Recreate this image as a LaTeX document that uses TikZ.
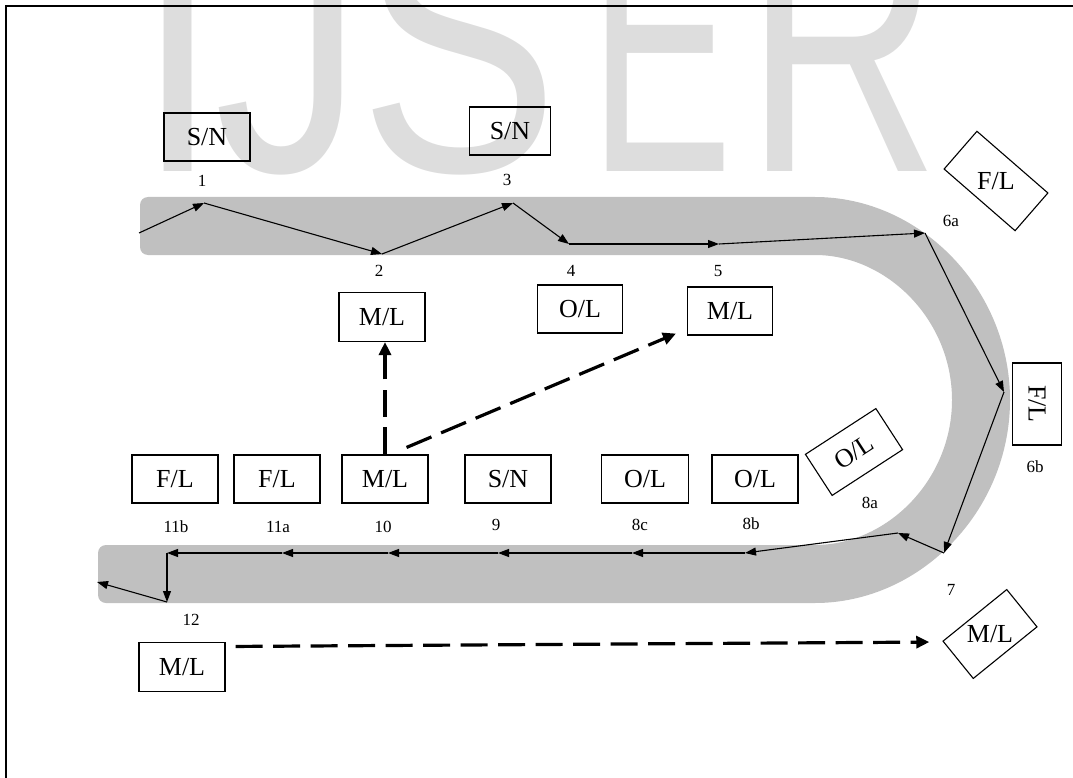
\documentclass[tikz,border=0pt]{standalone}
\usepackage{fontspec}
\setmainfont{Liberation Serif}
\newfontfamily\wmfont{Liberation Sans}
\usetikzlibrary{arrows.meta}
\definecolor{bandgray}{RGB}{192,192,192}
\definecolor{wmgray}{RGB}{221,221,221}
\begin{document}
\begin{tikzpicture}[x=1pt,y=-1pt,
 box/.style={draw=black, line width=1.1pt, inner sep=0pt, minimum width=86pt, minimum height=48pt, font=\fontsize{26}{28}\selectfont},
 txt/.style={inner sep=0pt, font=\fontsize{26}{28}\selectfont},
 lbl/.style={inner sep=0pt, font=\fontsize{17}{19}\selectfont},
 flow/.style={line width=1.1pt, -{Triangle[length=11pt,width=8pt]}},
 dashflow/.style={line width=3.2pt, dash pattern=on 27pt off 10.5pt, -{Triangle[length=13pt,width=12pt]}},
 wm/.style={inner sep=0pt, anchor=base west, yscale=1.25, text=wmgray, font=\wmfont\fontsize{299}{299}\selectfont}]
\useasboundingbox (0,0) rectangle (1073,778);
\clip (0,0) rectangle (1073,778);
% watermark
\node[wm] (wI) at (136,172) {I};
\node[wm] (wJ) at (214,172) {J};
\node[wm] (wS) at (359,172) {S};
\node[wm, xscale=0.72] (wE) at (589,172) {E};
\node[wm, xscale=0.9] (wR) at (745,172) {R};
% frame
\draw[line width=2pt] (6,778) -- (6,6.5) -- (1073,6.5);
% band
\fill[bandgray, rounded corners=8pt] (140,197) -- (807,197) arc[start angle=-90, end angle=90, radius=203] -- (98,603) -- (98,545) -- (807,545) arc[start angle=90, end angle=-90, radius=145] -- (140,255) -- cycle;
% path points
\coordinate (p0) at (139,233);
\coordinate (p1) at (204,203);
\coordinate (p2) at (382,254);
\coordinate (p3) at (513,203);
\coordinate (p4) at (569,244);
\coordinate (p5) at (719,244);
\coordinate (p6a) at (925,233);
\coordinate (p6b) at (1004,392);
\coordinate (p7) at (944,553);
\coordinate (p8a) at (898,533);
\coordinate (p8b) at (745,553);
\coordinate (p8c) at (632,553);
\coordinate (p9) at (498,553);
\coordinate (p10) at (388,553);
\coordinate (p11a) at (282,553);
\coordinate (p11b) at (167,553);
\coordinate (p12) at (167,602);
\coordinate (pend) at (97,582);
\draw[flow] (p0) -- (p1);
\draw[flow] (p1) -- (p2);
\draw[flow] (p2) -- (p3);
\draw[flow] (p3) -- (p4);
\draw[flow] (p4) -- (p5);
\draw[flow] (p5) -- (p6a);
\draw[flow] (p6a) -- (p6b);
\draw[flow] (p6b) -- (p7);
\draw[flow] (p7) -- (p8a);
\draw[flow] (p8a) -- (p8b);
\draw[flow] (p8b) -- (p8c);
\draw[flow] (p8c) -- (p9);
\draw[flow] (p9) -- (p10);
\draw[flow] (p10) -- (p11a);
\draw[flow] (p11a) -- (p11b);
\draw[flow] (p11b) -- (p12);
\draw[flow] (p12) -- (pend);
% boxes
\node[box] (sn1) at (207,137) {S/N};
\node[box, minimum width=81pt] (sn3) at (510,131) {S/N};
\node[box, minimum height=49pt] (ml2) at (382,317) {M/L};
\node[box, minimum width=85pt] (ol4) at (580,309) {O/L};
\node[box, minimum width=85pt] (ml5) at (730,311) {M/L};
\node[box, minimum width=94pt, minimum height=50pt, rotate=-41] (fl6a) at (996,181) {};
\node[txt] (fl6at) at (fl6a.center) {F/L};
\node[box, minimum width=82pt, minimum height=49pt, rotate=-90] (fl6b) at (1037,404) {F/L};
\node[box, minimum width=84pt, minimum height=49pt, rotate=33] (ol8a) at (854,452) {O/L};
\node[box, minimum width=82pt, minimum height=48pt, rotate=39] (ml7) at (990,634) {};
\node[txt] (ml7t) at (ml7.center) {M/L};
\node[box] (fl11b) at (175,479) {F/L};
\node[box] (fl11a) at (277,479) {F/L};
\node[box] (ml10) at (385,479) {M/L};
\node[box] (sn9) at (508,479) {S/N};
\node[box, minimum width=87pt] (ol8c) at (645,479) {O/L};
\node[box] (ol8b) at (755,479) {O/L};
\node[box, minimum height=49pt] (ml12) at (182,667) {M/L};
% labels
\node[lbl] (l1) at (202,181) {1};
\node[lbl] (l2) at (379,271) {2};
\node[lbl] (l3) at (507,180) {3};
\node[lbl] (l4) at (571,271) {4};
\node[lbl] (l5) at (718,271) {5};
\node[lbl] (l6a) at (951,221) {6a};
\node[lbl] (l6b) at (1035,467) {6b};
\node[lbl] (l7) at (951,590) {7};
\node[lbl] (l8a) at (870,503) {8a};
\node[lbl] (l8b) at (751,524) {8b};
\node[lbl] (l8c) at (640,525) {8c};
\node[lbl] (l9) at (496,525) {9};
\node[lbl] (l10) at (383,527) {10};
\node[lbl] (l11a) at (278,527) {11a};
\node[lbl] (l11b) at (176,527) {11b};
\node[lbl] (l12) at (191,620) {12};
% dashed connectors
\draw[dashflow] (ml10.north) -- (ml10.north |- ml2.south);
\draw[dashflow] ([shift={(-22,-7)}]ml10.north east) -- ([shift={(-11,-2)}]ml5.south west);
\draw[dashflow] ([shift={(10,4.5)}]ml12.north east) -- ([shift={(-13,1)}]ml7.north west);
\end{tikzpicture}
\end{document}
